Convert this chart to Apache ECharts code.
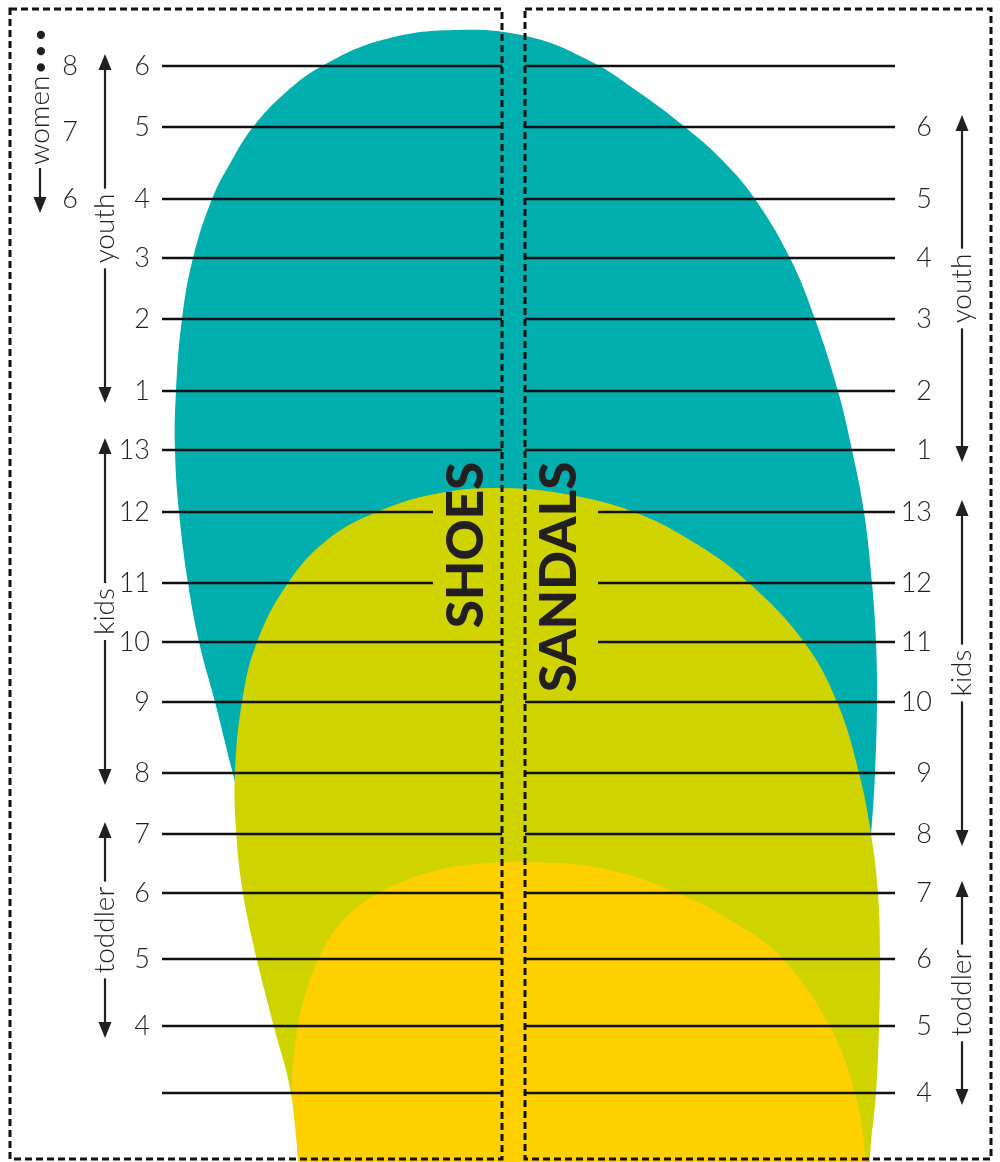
<!DOCTYPE html>
<html><head><meta charset="utf-8">
<script src="https://cdn.jsdelivr.net/npm/echarts@6/dist/echarts.min.js"></script>
<style>html,body{margin:0;padding:0;background:#fff}#chart{width:1000px;height:1162px}</style>
</head><body><div id="chart"></div>
<script>
// ---- data (chart units: x across page, y = distance from top of the foot template) ----
const sizeLineY   = [66,127,199,258,319,391,450,512,583,642,702,773,834,893,959,1026,1093];
const shoeSizes   = ['6','5','4','3','2','1','13','12','11','10','9','8','7','6','5','4',''];
const sandalSizes = ['','6','5','4','3','2','1','13','12','11','10','9','8','7','6','5','4'];
const womenSizes  = ['8','7','6'];           // spans shoe rows 0..2
const womenRows   = [0, 2];
const shoeGroups   = [['youth',0,5],['kids',6,11],['toddler',12,15]];
const sandalGroups = [['youth',1,6],['kids',7,12],['toddler',13,16]];
const adultFoot = [[455,30],[530,37],[592,62],[637,91],[685,127],[724,162],[755,199],[790,258],[815,319],[838,391],[852,450],[864,512],[872,583],[876,642],[877,702],[875,773],[871,834],[864,900],[760,960],[400,960],[275,890],[248,830],[232,770],[215,702],[199,642],[188,583],[179,512],[175,450],[176,391],[182,319],[193,258],[212,199],[232,160],[253,127],[285,93],[322,66],[382,40]];
const kidFoot = [[503,488],[565,494],[634,512],[695,543],[749,583],[804,642],[837,702],[859,773],[871,834],[878,893],[880,959],[879,1027],[876,1093],[870,1156],[866,1260],[300,1260],[298,1160],[291,1093],[274,1027],[257,960],[243,893],[236,830],[235,773],[242,702],[257,642],[288,583],[327,540],[377,512],[440,493]];
const toddlerFoot = [[534,862],[605,869],[677,893],[735,923],[783,959],[830,1027],[855,1093],[865,1156],[868,1260],[300,1260],[298,1160],[292,1093],[293,1063],[298,1027],[305,995],[318,960],[335,930],[360,905],[395,885],[443,869],[490,863]];

// ---- styles / layout ----
const INK = '#231f20';
const COLORS = {adult:'#00aead', kid:'#cfd400', toddler:'#ffd000'};
const L = {leftLineX0:162, leftLineX1:502, rightLineX0:525, rightLineX1:895,
  leftNumX:150, rightNumX:932, womenNumX:78, leftGroupX:105, rightGroupX:962, womenX:40,
  shoesX:467, shoesY:545, sandalsX:560, sandalsY:577, cutLeftX:433, cutRightX:598,
  overshoot:12, headLen:16, headHalf:6.5, womenArrowLen:45};
const FONT = 'Lato, "Open Sans", sans-serif';
const numStyle = {fontFamily:FONT, fontSize:27, fontWeight:300};
const grpStyle = {fontFamily:FONT, fontSize:28, fontWeight:300};
const titleStyle = {fontFamily:FONT, fontSize:51, fontWeight:900};

const mctx = document.createElement('canvas').getContext('2d');
function tw(st, s){ mctx.font = st.fontWeight + ' ' + st.fontSize + 'px ' + st.fontFamily; return mctx.measureText(s).width; }
const shoesHalf = tw(titleStyle,'SHOES')/2, sandalsHalf = tw(titleStyle,'SANDALS')/2;

function footSeries(outline, color, z){
  return {type:'custom', coordinateSystem:'cartesian2d', silent:true, z:z, data:[[0,0]],
    renderItem:(params, api)=>({type:'polygon', shape:{points: outline.map(p=>api.coord(p)), smooth:0.4},
      style:{fill:color}})};
}

function textEl(pt, text, st, align, rot){
  return {type:'text', x:pt[0], y:pt[1], rotation:rot||0,
    style:{text:text, x:0, y:0, fill:INK, align:align, verticalAlign:'middle',
      fontFamily:st.fontFamily, fontSize:st.fontSize, fontWeight:st.fontWeight}};
}
function arrowEls(api, x, yTip, yEnd){
  const dir = yEnd > yTip ? 1 : -1;
  const tip = api.coord([x, yTip]), end = api.coord([x, yEnd]);
  const base = tip[1] + dir*L.headLen;
  return [
    {type:'line', shape:{x1:tip[0], y1:base - dir*2, x2:end[0], y2:end[1]}, style:{stroke:INK, lineWidth:2.2}},
    {type:'polygon', shape:{points:[[tip[0],tip[1]],[tip[0]-L.headHalf, base],[tip[0]+L.headHalf, base]]}, style:{fill:INK}}
  ];
}
function groupEls(api, x, name, y0, y1){
  const half = tw(grpStyle, name)/2 + 5;
  const mid = (y0 + y1)/2;
  return [
    textEl(api.coord([x, mid]), name, grpStyle, 'center', Math.PI/2),
    ...arrowEls(api, x, y0 - L.overshoot, mid - half),
    ...arrowEls(api, x, y1 + L.overshoot, mid + half)
  ];
}

const rowSeries = {
  type:'custom', coordinateSystem:'cartesian2d', silent:true, z:5,
  data: sizeLineY.map((y,i)=>[i,y]),
  renderItem:(params, api)=>{
    const i = params.dataIndex, y = sizeLineY[i];
    const c = (x)=>api.coord([x, y]);
    const inShoes = Math.abs(y - L.shoesY) < shoesHalf + 6;
    const inSandals = Math.abs(y - L.sandalsY) < sandalsHalf + 6;
    const a = c(L.leftLineX0), b = c(inShoes ? L.cutLeftX : L.leftLineX1);
    const d = c(inSandals ? L.cutRightX : L.rightLineX0), e = c(L.rightLineX1);
    const kids = [
      {type:'line', shape:{x1:a[0], y1:a[1], x2:b[0], y2:b[1]}, style:{stroke:'#111', lineWidth:2.6}},
      {type:'line', shape:{x1:d[0], y1:d[1], x2:e[0], y2:e[1]}, style:{stroke:'#111', lineWidth:2.6}}
    ];
    if (shoeSizes[i]) kids.push(textEl(c(L.leftNumX), shoeSizes[i], numStyle, 'right'));
    if (sandalSizes[i]) kids.push(textEl(c(L.rightNumX), sandalSizes[i], numStyle, 'right'));
    return {type:'group', children:kids};
  }
};

const decorSeries = {
  type:'custom', coordinateSystem:'cartesian2d', silent:true, z:6, data:[[0,0]],
  renderItem:(params, api)=>{
    const kids = [];
    kids.push(textEl(api.coord([L.shoesX, L.shoesY]), 'SHOES', titleStyle, 'center', Math.PI/2));
    kids.push(textEl(api.coord([L.sandalsX, L.sandalsY]), 'SANDALS', titleStyle, 'center', Math.PI/2));
    shoeGroups.forEach(g=>kids.push(...groupEls(api, L.leftGroupX, g[0], sizeLineY[g[1]], sizeLineY[g[2]])));
    sandalGroups.forEach(g=>kids.push(...groupEls(api, L.rightGroupX, g[0], sizeLineY[g[1]], sizeLineY[g[2]])));
    // women sizes spread evenly over their rows
    const wy0 = sizeLineY[womenRows[0]], wy1 = sizeLineY[womenRows[1]];
    womenSizes.forEach((s,k)=>{
      const yy = wy0 + (wy1 - wy0) * k/(womenSizes.length-1);
      kids.push(textEl(api.coord([L.womenNumX, yy]), s, numStyle, 'right'));
    });
    const tipY = wy1 + L.overshoot + 2, topY = tipY - L.womenArrowLen;
    kids.push(...arrowEls(api, L.womenX, tipY, topY));
    kids.push(textEl(api.coord([L.womenX, topY - 3]), 'women\u2022\u2022\u2022', grpStyle, 'left', Math.PI/2));
    return {type:'group', children:kids};
  }
};

const chart = echarts.init(document.getElementById('chart'), null, {renderer:'canvas'});
chart.setOption({
  animation:false,
  backgroundColor:'#fff',
  grid:{left:0, right:0, top:0, bottom:0},
  xAxis:{type:'value', min:0, max:1000, show:false},
  yAxis:{type:'value', min:0, max:1162, inverse:true, show:false},
  graphic:[
    {type:'rect', z:100, silent:true, shape:{x:10, y:9, width:492, height:1150}, style:{fill:null, stroke:'#111', lineWidth:3, lineDash:[7,4]}},
    {type:'rect', z:100, silent:true, shape:{x:525, y:9, width:466, height:1150}, style:{fill:null, stroke:'#111', lineWidth:3, lineDash:[7,4]}}
  ],
  series:[
    footSeries(adultFoot, COLORS.adult, 1),
    footSeries(kidFoot, COLORS.kid, 2),
    footSeries(toddlerFoot, COLORS.toddler, 3),
    rowSeries, decorSeries
  ]
});
</script></body></html>
